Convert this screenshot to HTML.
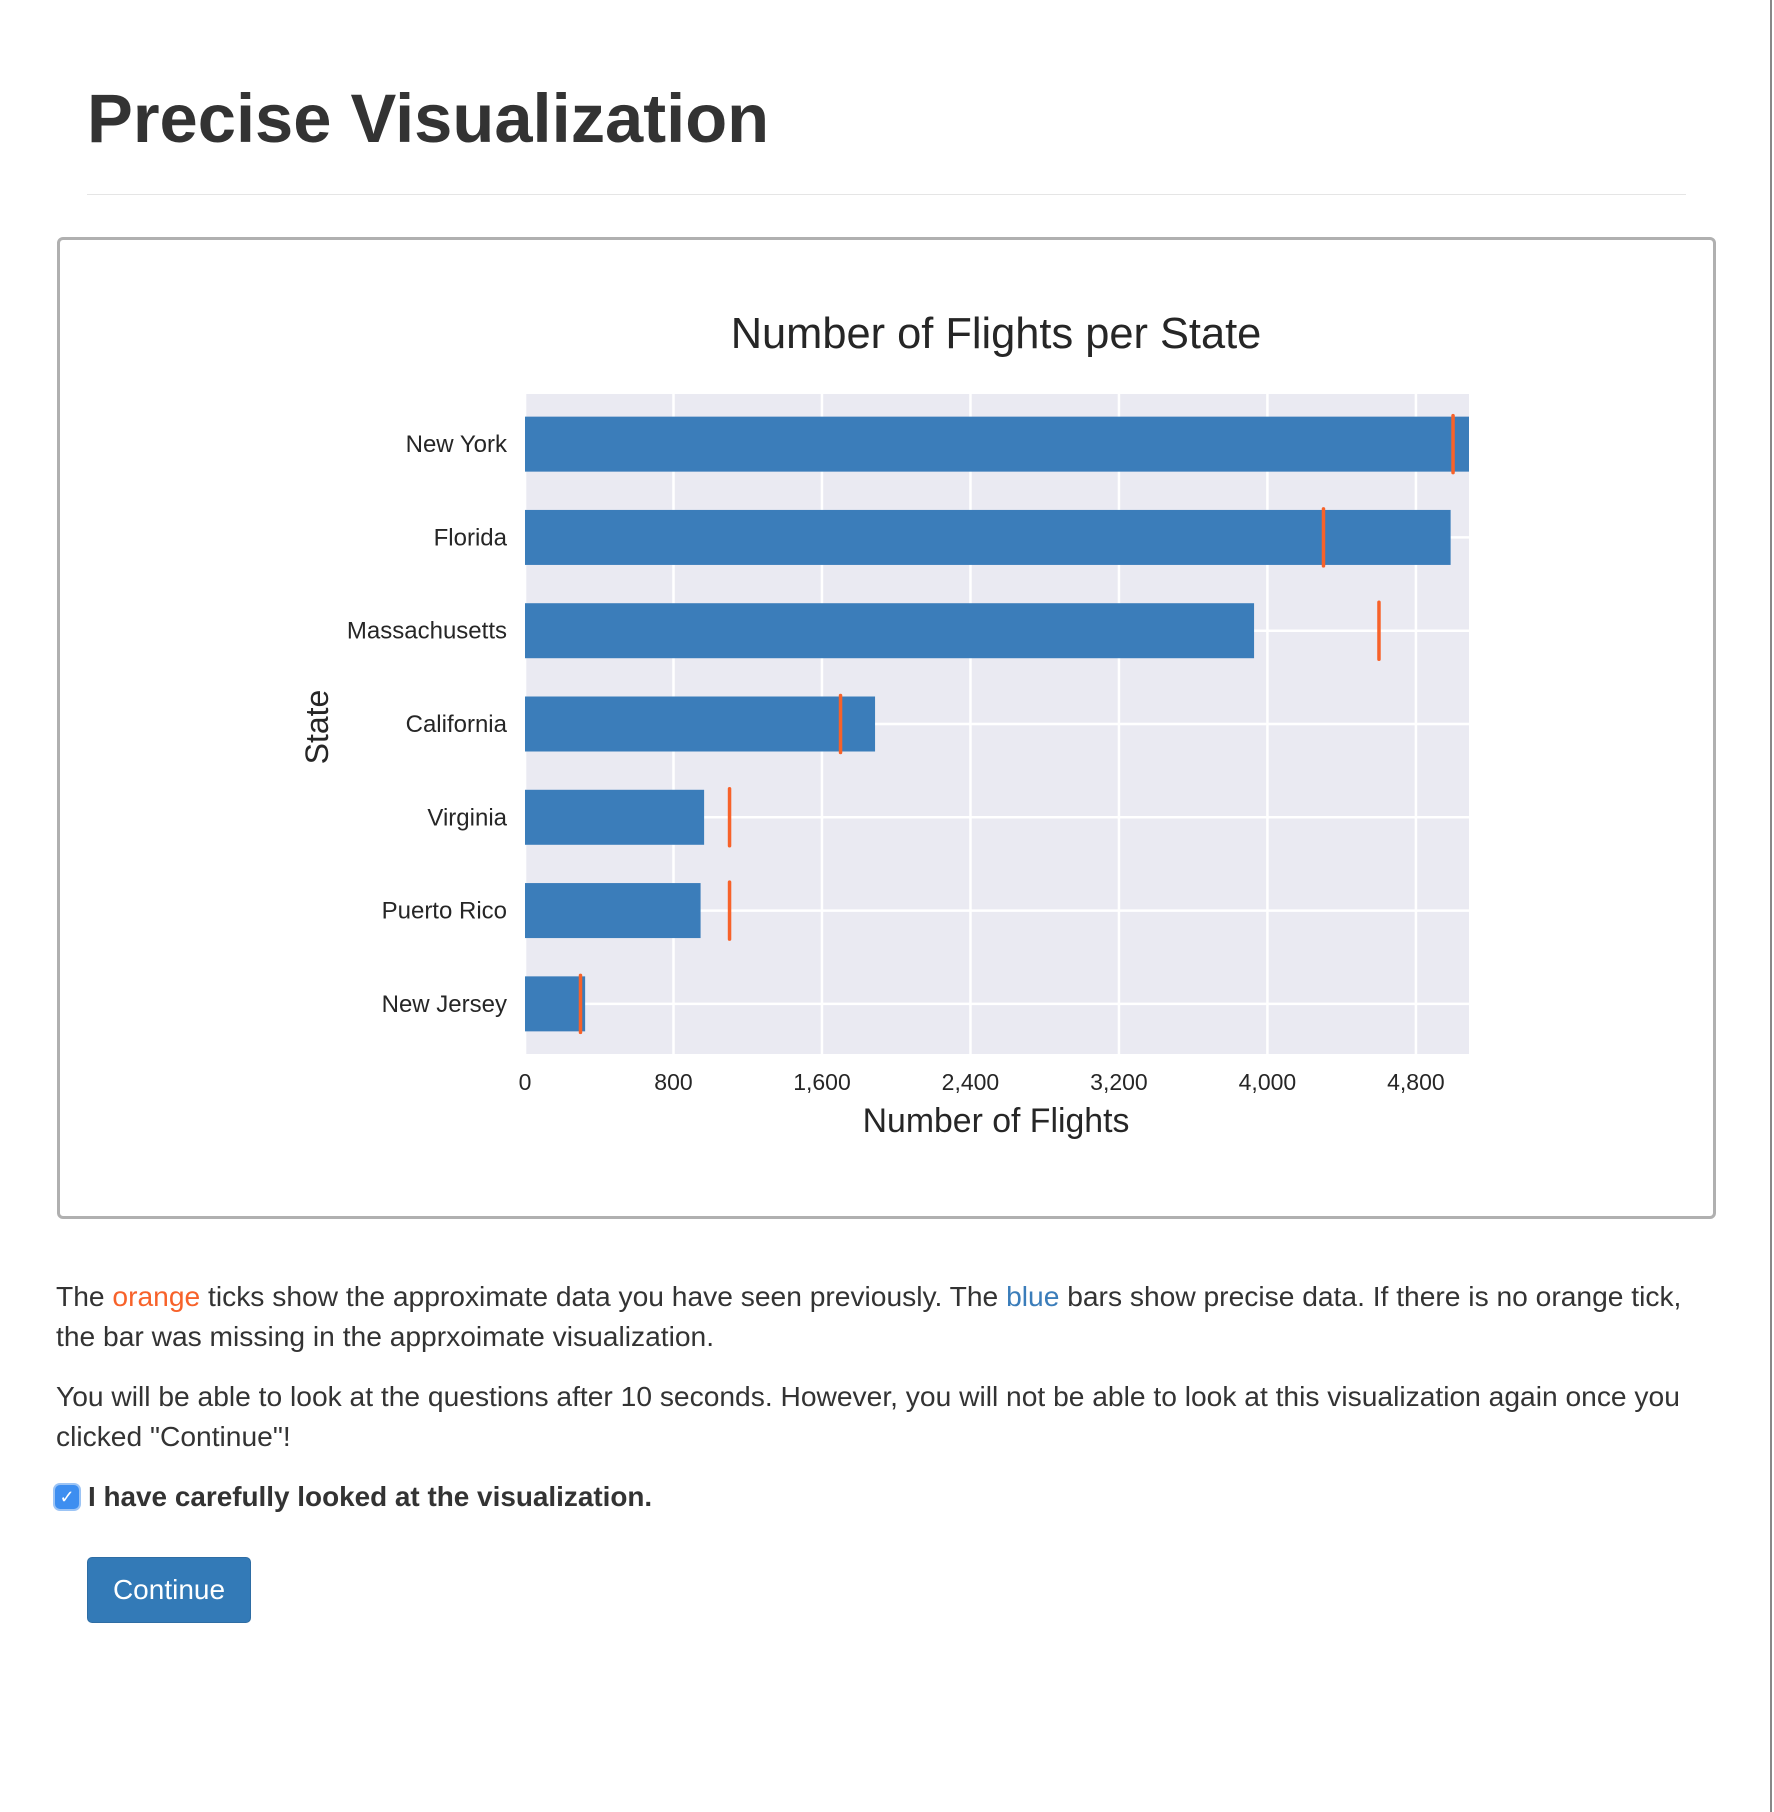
<!DOCTYPE html>
<html><head><meta charset="utf-8"><style>
body{margin:0;width:1774px;height:1812px;background:#fff;position:relative;font-family:"Liberation Sans",Arial,sans-serif;color:#333;overflow:hidden}
.abs{position:absolute}
p{margin:0}
</style></head><body>
<div class="abs" style="left:1770px;top:0;width:2px;height:1812px;background:#888"></div>
<h1 class="abs" style="left:87px;top:74px;margin:0;font-size:68.7px;font-weight:bold;line-height:90px;color:#333">Precise Visualization</h1>
<div class="abs" style="left:87px;top:194px;width:1599px;height:1px;background:#e5e5e5"></div>
<div class="abs" style="left:57px;top:237px;width:1653px;height:976px;border:3px solid #b0b0b0;border-radius:6px"></div>
<svg class="abs" style="left:0;top:0" width="1774" height="1300">
<text x="996" y="348" text-anchor="middle" font-size="43.4" fill="#262626" font-family="Liberation Sans">Number of Flights per State</text>
<g id="plot"></g>
<text x="996" y="1132" text-anchor="middle" font-size="33.8" fill="#262626" font-family="Liberation Sans">Number of Flights</text>
<text x="0" y="0" transform="translate(328,727) rotate(-90)" text-anchor="middle" font-size="32" fill="#262626" font-family="Liberation Sans">State</text>
</svg>
<script>
const categories=["New York","Florida","Massachusetts","California","Virginia","Puerto Rico","New Jersey"];
const preciseValues=[5086,4987,3928,1886,965,946,324];
const approxValues=[5000,4302,4601,1700,1102,1102,299];
const xTicks=[0,800,1600,2400,3200,4000,4800];
const xTickLabels=["0","800","1,600","2,400","3,200","4,000","4,800"];
const L=525,R=1469,T=394,B=1054;
const xMax=Math.max(...preciseValues);
const x=v=>L+(v/xMax)*(R-L);
const step=(B-T-7)/categories.length;
const y=i=>T+3.5+step*(i+0.5);
const NS="http://www.w3.org/2000/svg";
const g=document.getElementById('plot');
function mk(t,a){const e=document.createElementNS(NS,t);for(const k in a)e.setAttribute(k,a[k]);g.appendChild(e);return e;}
let bg=mk('rect',{x:L,y:T,width:R-L,height:B-T,fill:'#eaeaf2'});


xTicks.forEach((t,i)=>{
 let ln=mk('line',{x1:x(t),x2:x(t),y1:T,y2:B,stroke:'#fff','stroke-width':2.5});
 
 
 let tx=mk('text',{x:x(t),y:1090,'text-anchor':'middle','font-size':23,fill:'#262626','font-family':'Liberation Sans'});
 tx.textContent=xTickLabels[i];
 
 
});
categories.forEach((c,i)=>{
 let ln=mk('line',{x1:L,x2:R,y1:y(i),y2:y(i),stroke:'#fff','stroke-width':2.5});
 
 
});
const bh=55;
categories.forEach((c,i)=>{
 let b=mk('rect',{x:L,y:y(i)-bh/2,width:x(preciseValues[i])-L,height:bh,fill:'#3b7dba'});
 
 
 let tk=mk('line',{x1:x(approxValues[i]),x2:x(approxValues[i]),y1:y(i)-bh/2-1,y2:y(i)+bh/2+1,stroke:'#f7622a','stroke-width':3.5,'stroke-linecap':'round'});
 
 
 let lb=mk('text',{x:507,y:y(i)+8,'text-anchor':'end','font-size':24,fill:'#262626','font-family':'Liberation Sans'});
 lb.textContent=c;
 
 
});
</script>
<p class="abs" style="left:56px;top:1276px;width:1650px;font-size:28.2px;line-height:40px">The <span style="color:#f7622a">orange</span> ticks show the approximate data you have seen previously. The <span style="color:#3b7dba">blue</span> bars show precise data. If there is no orange tick, the bar was missing in the apprxoimate visualization.</p>
<p class="abs" style="left:56px;top:1376px;width:1650px;font-size:28.2px;line-height:40px">You will be able to look at the questions after 10 seconds. However, you will not be able to look at this visualization again once you clicked "Continue"!</p>
<div class="abs" style="left:55px;top:1485px;width:24px;height:24px;border-radius:5px;background:#3d8ef0;box-shadow:0 0 0 2px #9cc4f5;color:#fff;font-size:18px;line-height:24px;text-align:center">✓</div>
<div class="abs" style="left:88px;top:1480px;font-size:27.9px;font-weight:bold;line-height:34px">I have carefully looked at the visualization.</div>
<div class="abs" style="left:87px;top:1557px;width:164px;height:66px;background:#337ab7;border:1px solid #2e6da4;border-radius:5px;box-sizing:border-box;color:#fff;font-size:28px;line-height:64px;text-align:center">Continue</div>
</body></html>
